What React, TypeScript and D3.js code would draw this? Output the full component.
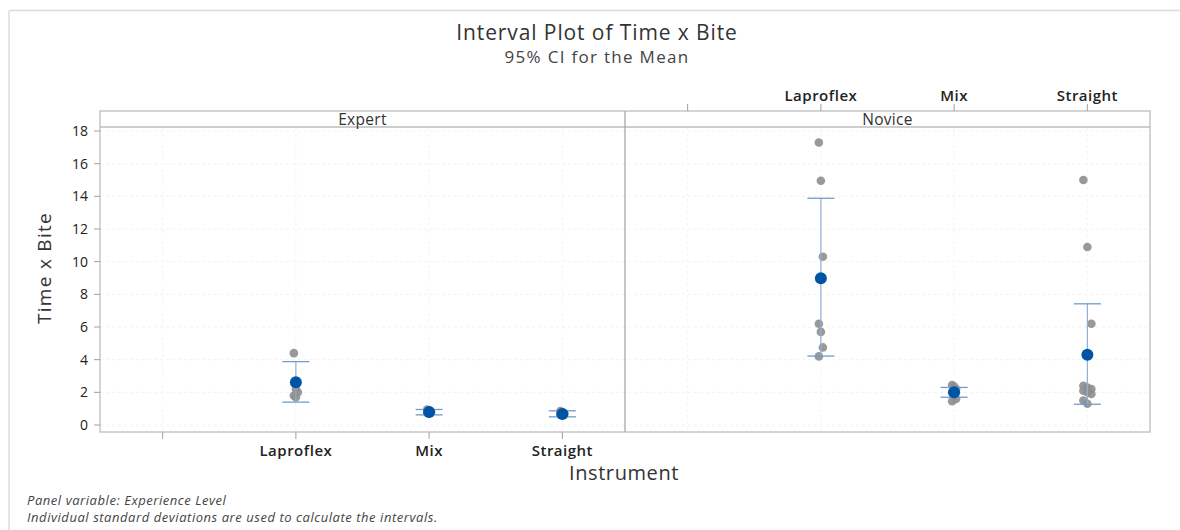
import React, { useEffect, useRef } from 'react';
import * as d3 from 'd3';

// categories
const panels = ['Expert', 'Novice'];
const instruments = ['', 'Laproflex', 'Mix', 'Straight'];
const yTicks = [0, 2, 4, 6, 8, 10, 12, 14, 16, 18];

const expertLaproflex = [4.4, 2.2, 2.0, 1.8, 1.7];
const expertMix = [0.95, 0.9, 0.8, 0.75, 0.7];
const expertStraight = [0.85, 0.78, 0.7, 0.65, 0.6];
const noviceLaproflex = [17.3, 14.95, 10.3, 6.2, 5.7, 4.75, 4.2];
const noviceMix = [2.45, 2.35, 2.2, 2.0, 1.8, 1.6, 1.45];
const noviceStraight = [15, 10.9, 6.2, 2.4, 2.3, 2.2, 2.1, 2.0, 1.9, 1.5, 1.3];

// means and 95% CI
const means = [2.62, 0.8, 0.68, 8.98, 2.0, 4.3];
const ciLow = [1.4, 0.62, 0.5, 4.22, 1.7, 1.27];
const ciHigh = [3.88, 0.95, 0.87, 13.88, 2.3, 7.42];

const groups = [
  { panel: 'Expert', inst: 'Laproflex', values: expertLaproflex },
  { panel: 'Expert', inst: 'Mix', values: expertMix },
  { panel: 'Expert', inst: 'Straight', values: expertStraight },
  { panel: 'Novice', inst: 'Laproflex', values: noviceLaproflex },
  { panel: 'Novice', inst: 'Mix', values: noviceMix },
  { panel: 'Novice', inst: 'Straight', values: noviceStraight },
];

const App = () => {
  const ref = useRef<SVGSVGElement>(null);

  useEffect(() => {
    const width = 1180;
    const height = 530;
    const left = 100;
    const right = 1150;
    const stripTop = 111;
    const stripBottom = 127;
    const bottom = 432;
    const font = '"Open Sans", "Noto Sans", sans-serif';

    const svg = d3.select(ref.current);
    svg.selectAll('*').remove();
    svg.attr('width', width).attr('height', height).style('font-family', font);

    // outer frame
    svg.append('line').attr('x1', 9).attr('x2', width).attr('y1', 10.5).attr('y2', 10.5)
      .attr('stroke', '#dcdcdc').attr('stroke-width', 1.5);
    svg.append('line').attr('x1', 9).attr('x2', 9).attr('y1', 10.5).attr('y2', height)
      .attr('stroke', '#dcdcdc').attr('stroke-width', 1.5);

    const y = d3.scaleLinear().domain([0, 18]).range([425, 131]);
    const panelX = d3.scaleBand().domain(panels).range([left, right]);

    // grid
    const grid = svg.append('g');
    yTicks.forEach(t => {
      grid.append('line').attr('x1', left).attr('x2', right).attr('y1', y(t)).attr('y2', y(t))
        .attr('stroke', '#f2f2f2').attr('stroke-dasharray', '3,3');
    });

    // plot frame and strip
    svg.append('rect').attr('x', left).attr('y', stripTop).attr('width', right - left)
      .attr('height', bottom - stripTop).attr('fill', 'none').attr('stroke', '#bdbdbd').attr('stroke-width', 1.3);
    svg.append('line').attr('x1', left).attr('x2', right).attr('y1', stripBottom).attr('y2', stripBottom)
      .attr('stroke', '#bdbdbd').attr('stroke-width', 1.3);

    panels.forEach((p, pi) => {
      const x0 = panelX(p)!;
      const x = d3.scalePoint().domain(instruments).range([x0, x0 + panelX.bandwidth()]).padding(0.47);

      if (pi > 0) {
        svg.append('line').attr('x1', x0).attr('x2', x0).attr('y1', stripTop).attr('y2', bottom)
          .attr('stroke', '#a8a8a8').attr('stroke-width', 1.3);
      }
      svg.append('text').attr('x', x0 + panelX.bandwidth() / 2).attr('y', 124.5)
        .attr('text-anchor', 'middle').attr('font-size', 15.5).attr('letter-spacing', 0.3)
        .attr('fill', '#333').text(p);

      instruments.forEach(inst => {
        grid.append('line').attr('x1', x(inst)!).attr('x2', x(inst)!).attr('y1', stripBottom).attr('y2', bottom)
          .attr('stroke', '#f4f4f4').attr('stroke-dasharray', '3,3');
      });

      // alternating axes: bottom for first panel, top for second
      const isBottom = pi === 0;
      const axis = svg.append('g');
      instruments.forEach(inst => {
        const xi = x(inst)!;
        axis.append('line').attr('x1', xi).attr('x2', xi)
          .attr('y1', isBottom ? bottom : 104).attr('y2', isBottom ? bottom + 7 : stripTop)
          .attr('stroke', '#a0a0a0');
        axis.append('text').attr('x', xi).attr('y', isBottom ? 456 : 101)
          .attr('text-anchor', 'middle').attr('font-size', 15).attr('font-weight', 600)
          .attr('letter-spacing', 0.5).attr('fill', '#222').text(inst);
      });

      groups.forEach((g, gi) => {
        if (g.panel !== p) return;
        const cx = x(g.inst)!;
        const gg = svg.append('g');
        g.values.forEach((v, i) => {
          const off = ((i % 3) - 1) * (g.values.length > 8 ? 4 : 2);
          gg.append('circle').attr('cx', cx + off).attr('cy', y(v)).attr('r', 4.3)
            .attr('fill', '#8e8e8e').attr('fill-opacity', 0.9);
        });
        gg.append('line').attr('x1', cx).attr('x2', cx).attr('y1', y(ciLow[gi])).attr('y2', y(ciHigh[gi]))
          .attr('stroke', '#8fb0d4').attr('stroke-width', 1.2);
        [ciLow[gi], ciHigh[gi]].forEach(c => {
          gg.append('line').attr('x1', cx - 13.5).attr('x2', cx + 13.5).attr('y1', y(c)).attr('y2', y(c))
            .attr('stroke', '#6f9ccc').attr('stroke-width', 1.3);
        });
        gg.append('circle').attr('cx', cx).attr('cy', y(means[gi])).attr('r', 6)
          .attr('fill', '#0054a6');
      });
    });

    // y axis
    const yAxis = svg.append('g');
    yTicks.forEach(t => {
      yAxis.append('line').attr('x1', left - 6).attr('x2', left).attr('y1', y(t)).attr('y2', y(t))
        .attr('stroke', '#a0a0a0');
      yAxis.append('text').attr('x', 88).attr('y', y(t)).attr('dy', '0.35em')
        .attr('text-anchor', 'end').attr('font-size', 14).attr('font-weight', 500)
        .attr('fill', '#222').text(t);
    });

    // titles
    svg.append('text').attr('x', 597).attr('y', 40).attr('text-anchor', 'middle')
      .attr('font-size', 21).attr('letter-spacing', 0.9).attr('fill', '#333')
      .text('Interval Plot of Time x Bite');
    svg.append('text').attr('x', 597).attr('y', 63).attr('text-anchor', 'middle')
      .attr('font-size', 17).attr('letter-spacing', 1.3).attr('fill', '#444')
      .text('95% CI for the Mean');
    svg.append('text').attr('transform', 'translate(51,268) rotate(-90)').attr('text-anchor', 'middle')
      .attr('font-size', 19).attr('letter-spacing', 1.3).attr('fill', '#333').text('Time x Bite');
    svg.append('text').attr('x', 624).attr('y', 480).attr('text-anchor', 'middle')
      .attr('font-size', 20).attr('letter-spacing', 0.6).attr('fill', '#333').text('Instrument');

    svg.append('text').attr('x', 27).attr('y', 505).attr('font-size', 13).attr('font-style', 'italic')
      .attr('letter-spacing', 0.55).attr('fill', '#444').text('Panel variable: Experience Level');
    svg.append('text').attr('x', 27).attr('y', 522).attr('font-size', 13).attr('font-style', 'italic')
      .attr('letter-spacing', 0.55).attr('fill', '#444')
      .text('Individual standard deviations are used to calculate the intervals.');
  }, []);

  return <svg ref={ref} style={{ position: 'absolute', left: 0, top: 0 }} />;
};

export default App;
